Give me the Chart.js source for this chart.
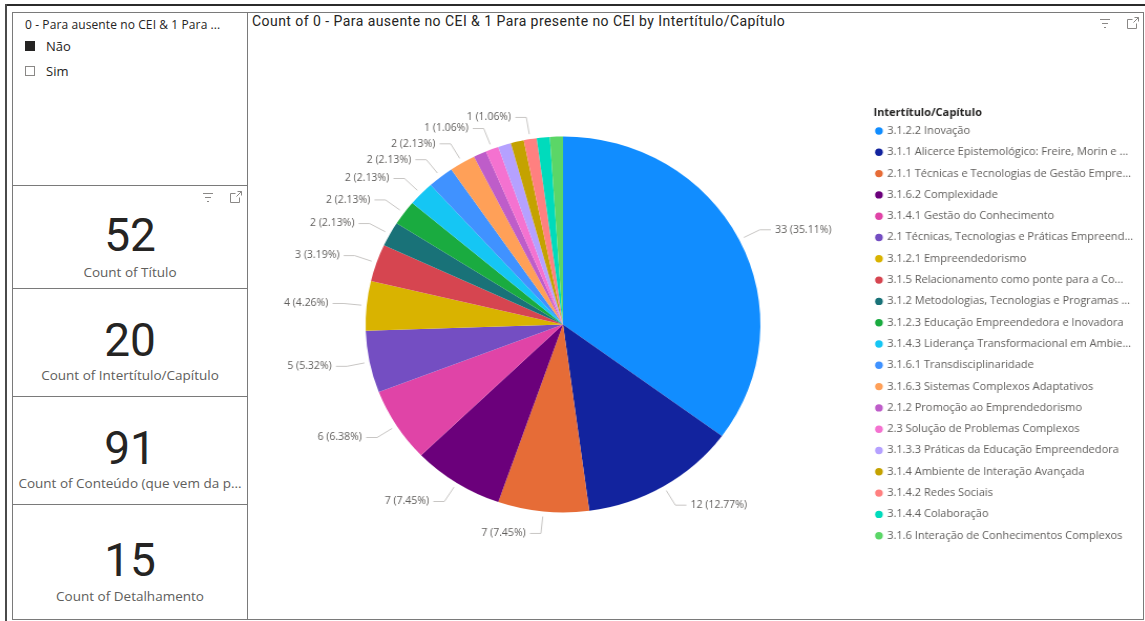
<!DOCTYPE html>
<html>
<head>
<meta charset="utf-8">
<script src="https://cdn.jsdelivr.net/npm/chart.js@4.4.1/dist/chart.umd.min.js"></script>
<style>
  html, body { margin: 0; padding: 0; background: #fff; width: 1145px; height: 621px; overflow: hidden; font-family: "Open Sans", sans-serif; }
  .abs { position: absolute; }
  .frame-top { left: 6px; top: 4px; width: 1139px; height: 2px; background: #2b2b2b; }
  .frame-left { left: 5px; top: 4px; width: 2px; height: 617px; background: #4a4a4a; }
  .panel { position: absolute; box-sizing: border-box; border: 1px solid #7a7a7a; background: #fff; }
  .slicer-title { left: 25px; top: 17px; font-size: 12px; letter-spacing: 0.1px; line-height: 16px; color: #252423; white-space: nowrap; }
  .chk { width: 10px; height: 10px; box-sizing: border-box; }
  .chk.on { background: #252423; border: 1px solid #252423; }
  .chk.off { background: #fff; border: 1px solid #8a8886; }
  .chk-text { left: 46px; font-size: 13px; line-height: 18px; color: #252423; }
  .card-num { left: 12px; width: 236px; text-align: center; font-family: Roboto, sans-serif; font-size: 46px; line-height: 46px; color: #252423; }
  .card-lbl { left: 12px; width: 236px; text-align: center; font-size: 13.5px; line-height: 16px; color: #605e5c; white-space: nowrap; }
  .chart-title { left: 252px; top: 13px; font-family: Roboto, sans-serif; font-size: 14px; letter-spacing: 0.45px; line-height: 16px; color: #252423; white-space: nowrap; }
  #wrap { left: 248px; top: 12px; width: 851px; height: 607px; transform: scaleX(1.05); transform-origin: 0 0; }
</style>
</head>
<body>
<div class="abs frame-top"></div>
<div class="abs frame-left"></div>

<!-- slicer -->
<div class="panel" style="left:12px;top:12px;width:236px;height:174px;"></div>
<div class="abs slicer-title">0 - Para ausente no CEI &amp; 1 Para ...</div>
<div class="abs chk on" style="left:25px;top:41px;"></div>
<div class="abs chk-text" style="top:37px;">Não</div>
<div class="abs chk off" style="left:25px;top:66px;"></div>
<div class="abs chk-text" style="top:62px;">Sim</div>

<!-- cards -->
<div class="panel" style="left:12px;top:185px;width:236px;height:104px;"></div>
<div class="panel" style="left:12px;top:288px;width:236px;height:109px;"></div>
<div class="panel" style="left:12px;top:396px;width:236px;height:109px;"></div>
<div class="panel" style="left:12px;top:504px;width:236px;height:116px;"></div>

<svg class="abs" style="left:200px;top:190px;" width="46" height="14" viewBox="0 0 46 14">
  <g stroke="#8a8886" stroke-width="1" fill="none">
    <line x1="3" y1="3.5" x2="13" y2="3.5"/><line x1="5" y1="7.5" x2="11" y2="7.5"/><line x1="7" y1="11.5" x2="9" y2="11.5"/>
    <path d="M35.5 3.5 h-5 v9 h9 v-5"/><path d="M37.5 1.5 h4 v4 M41.5 1.5 l-5 5"/>
  </g>
</svg>

<div class="abs card-num" style="top:212px;">52</div>
<div class="abs card-lbl" style="top:264px;">Count of Título</div>
<div class="abs card-num" style="top:317px;">20</div>
<div class="abs card-lbl" style="top:367px;">Count of Intertítulo/Capítulo</div>
<div class="abs card-num" style="top:425px;">91</div>
<div class="abs card-lbl" style="top:475px;">Count of Conteúdo (que vem da p...</div>
<div class="abs card-num" style="top:537px;">15</div>
<div class="abs card-lbl" style="top:588px;">Count of Detalhamento</div>

<!-- main pie visual -->
<div class="panel" style="left:247px;top:12px;width:897px;height:608px;"></div>
<div class="abs chart-title">Count of 0 - Para ausente no CEI &amp; 1 Para presente no CEI by Intertítulo/Capítulo</div>
<svg class="abs" style="left:1097px;top:16px;" width="46" height="14" viewBox="0 0 46 14">
  <g stroke="#8a8886" stroke-width="1" fill="none">
    <line x1="3" y1="3.5" x2="13" y2="3.5"/><line x1="5" y1="7.5" x2="11" y2="7.5"/><line x1="7" y1="11.5" x2="9" y2="11.5"/>
    <path d="M35.5 3.5 h-5 v9 h9 v-5"/><path d="M37.5 1.5 h4 v4 M41.5 1.5 l-5 5"/>
  </g>
</svg>
<div id="wrap" class="abs"><canvas id="pie" width="851" height="607"></canvas></div>

<script>
// Intertítulo/Capítulo categories, in slice order
const categories = [
  "3.1.2.2 Inovação",
  "3.1.1 Alicerce Epistemológico: Freire, Morin e ...",
  "2.1.1 Técnicas e Tecnologias de Gestão Empre...",
  "3.1.6.2 Complexidade",
  "3.1.4.1 Gestão do Conhecimento",
  "2.1 Técnicas, Tecnologias e Práticas Empreend...",
  "3.1.2.1 Empreendedorismo",
  "3.1.5 Relacionamento como ponte para a Co...",
  "3.1.2 Metodologias, Tecnologias e Programas ...",
  "3.1.2.3 Educação Empreendedora e Inovadora",
  "3.1.4.3 Liderança Transformacional em Ambie...",
  "3.1.6.1 Transdisciplinaridade",
  "3.1.6.3 Sistemas Complexos Adaptativos",
  "2.1.2 Promoção ao Emprendedorismo",
  "2.3 Solução de Problemas Complexos",
  "3.1.3.3 Práticas da Educação Empreendedora",
  "3.1.4 Ambiente de Interação Avançada",
  "3.1.4.2 Redes Sociais",
  "3.1.4.4 Colaboração",
  "3.1.6 Interação de Conhecimentos Complexos"
];

// Count of "0 - Para ausente no CEI & 1 Para presente no CEI"
const counts = [33, 12, 7, 7, 6, 5, 4, 3, 2, 2, 2, 2, 2, 1, 1, 1, 1, 1, 1, 1];

const sliceColors = [
  "#118DFF", "#12239E", "#E66C37", "#6B007B", "#E044A7",
  "#744EC2", "#D9B300", "#D64550", "#197278", "#1AAB40",
  "#15C6F4", "#4092FF", "#FFA058", "#BE5DC9", "#F472D0",
  "#B5A1FF", "#C4A200", "#FF8080", "#00DBBC", "#5BD667"
];

// slices that carry a detail label
const labelledSlices = [0, 1, 2, 3, 4, 5, 6, 7, 8, 9, 10, 11, 12, 14, 17];

const CANVAS_W = 851;
const LEGEND_FONT = 10.5;
const LEGEND_PAD = 10.8;
const DOT = 5.2;
const LEGEND_LEFT = 587.5;

// width the legend column needs, so it lands at LEGEND_LEFT
const mctx = document.createElement('canvas').getContext('2d');
mctx.font = LEGEND_FONT + 'px "Open Sans"';
const widest = Math.max(...categories.map(t => mctx.measureText(t).width));
const legendWidth = LEGEND_PAD + DOT + LEGEND_FONT / 2 + widest + 10;
const padRight = CANVAS_W - LEGEND_LEFT - legendWidth;

// detail labels with leader lines
const sliceLabels = {
  id: 'sliceLabels',
  afterDatasetsDraw(chart) {
    const ctx = chart.ctx;
    const meta = chart.getDatasetMeta(0);
    const values = chart.data.datasets[0].data;
    const total = values.reduce((a, b) => a + b, 0);
    ctx.save();
    ctx.font = '10px "Open Sans"';
    ctx.textBaseline = 'middle';
    ctx.lineWidth = 1;
    meta.data.forEach((arc, i) => {
      if (!labelledSlices.includes(i)) return;
      const p = arc.getProps(['x', 'y', 'startAngle', 'endAngle', 'outerRadius'], true);
      const mid = (p.startAngle + p.endAngle) / 2;
      const c = Math.cos(mid), s = Math.sin(mid);
      const x0 = p.x + c * (p.outerRadius + 5), y0 = p.y + s * (p.outerRadius + 5);
      const x1 = p.x + c * (p.outerRadius + 22), y1 = p.y + s * (p.outerRadius + 22);
      const right = c >= 0;
      const x2 = x1 + (right ? 10.5 : -10.5);
      ctx.strokeStyle = '#c8c6c4';
      ctx.beginPath();
      ctx.moveTo(x0, y0);
      ctx.lineTo(x1, y1);
      ctx.lineTo(x2, y1);
      ctx.stroke();
      const v = values[i];
      const txt = v + ' (' + (v / total * 100).toFixed(2) + '%)';
      ctx.fillStyle = '#605e5c';
      ctx.textAlign = right ? 'left' : 'right';
      ctx.fillText(txt, x2 + (right ? 4 : -4), y1);
    });
    ctx.restore();
  }
};

new Chart(document.getElementById('pie'), {
  type: 'pie',
  data: {
    labels: categories,
    datasets: [{
      data: counts,
      backgroundColor: sliceColors,
      borderWidth: 0,
      radius: 188
    }]
  },
  options: {
    responsive: false,
    devicePixelRatio: 1,
    animation: false,
    layout: { padding: { left: 600 - LEGEND_LEFT, right: padRight, top: 81.05, bottom: 63.05 } },
    plugins: {
      tooltip: { enabled: false },
      legend: {
        position: 'right',
        align: 'start',
        title: {
          display: true,
          text: '   Intertítulo/Capítulo',
          position: 'start',
          color: '#252423',
          font: { family: '"Open Sans"', size: 10.5, weight: 'bold' },
          padding: { top: 14.7, bottom: -5.4 }
        },
        labels: {
          usePointStyle: true,
          pointStyle: 'circle',
          boxWidth: DOT,
          boxHeight: DOT,
          padding: LEGEND_PAD,
          color: '#605e5c',
          font: { family: '"Open Sans"', size: LEGEND_FONT }
        }
      }
    }
  },
  plugins: [sliceLabels]
});
</script>
</body>
</html>
